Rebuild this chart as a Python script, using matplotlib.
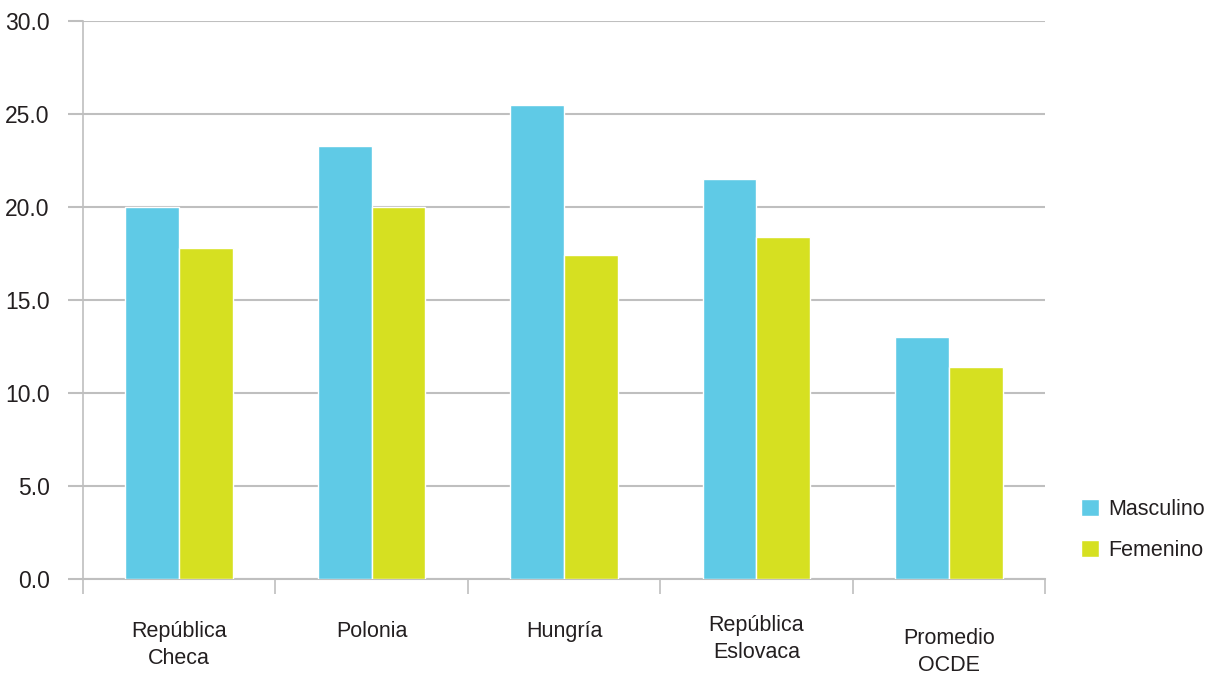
import numpy as np
import matplotlib.pyplot as plt

# Valores por país y sexo
paises = ['República\nCheca', 'Polonia', 'Hungría', 'República\nEslovaca', 'Promedio\nOCDE']
masculino = [20.0, 23.3, 25.5, 21.5, 13.0]
femenino = [17.8, 20.0, 17.4, 18.4, 11.4]
y_ticks = [0, 5, 10, 15, 20, 25, 30]

plt.rcParams['font.family'] = ['Liberation Sans', 'DejaVu Sans']

fig = plt.figure(figsize=(12.09, 6.75), dpi=100)
ax = fig.add_axes([0.0687, 0.1422, 0.7956, 0.8267])

x = np.arange(len(paises))
ancho = 0.28
gris = '#BFBFBF'
texto = '#231F20'

ax.bar(x - ancho / 2, masculino, ancho, color='#5FCAE6', edgecolor='white', linewidth=1, label='Masculino', zorder=3)
ax.bar(x + ancho / 2, femenino, ancho, color='#D6E021', edgecolor='white', linewidth=1, label='Femenino', zorder=3)

ax.set_xlim(-0.5, len(paises) - 0.5)
ax.set_ylim(0, 30)
ax.set_yticks(y_ticks)
ax.set_yticklabels([f'{v:.1f}' for v in y_ticks], fontsize=16.5, color=texto)
ax.yaxis.grid(True, color=gris, linewidth=1.5, zorder=0)

# Marcas del eje x en los límites entre categorías
ax.set_xticks(np.arange(-0.5, len(paises)))
ax.set_xticklabels([])
ax.tick_params(axis='x', length=11, width=1.2, color=gris)
ax.tick_params(axis='y', length=11, width=1.5, color=gris, pad=13)

# Etiquetas de categoría, algunas algo desplazadas en vertical
desplaz = [0, 0, 0, 6, -7]
for xi, nombre, d in zip(x, paises, desplaz):
    ax.annotate(nombre, (xi, -0.076), xycoords=ax.get_xaxis_transform(),
                xytext=(0, d * 0.72), textcoords='offset points',
                ha='center', va='top', fontsize=15.5, color=texto, linespacing=1.32)

for lado in ['top', 'right']:
    ax.spines[lado].set_visible(False)
ax.spines['left'].set_color(gris)
ax.spines['left'].set_linewidth(1.2)
ax.spines['bottom'].set_color(gris)
ax.spines['bottom'].set_linewidth(1.5)

ax.legend(loc='center left', bbox_to_anchor=(1.037, 0.088), frameon=False, fontsize=15.5,
          borderaxespad=0, borderpad=0,
          handlelength=0.85, handleheight=0.85, handletextpad=0.45, labelspacing=0.95,
          labelcolor=texto)

fig.savefig('out.png', dpi=100)
